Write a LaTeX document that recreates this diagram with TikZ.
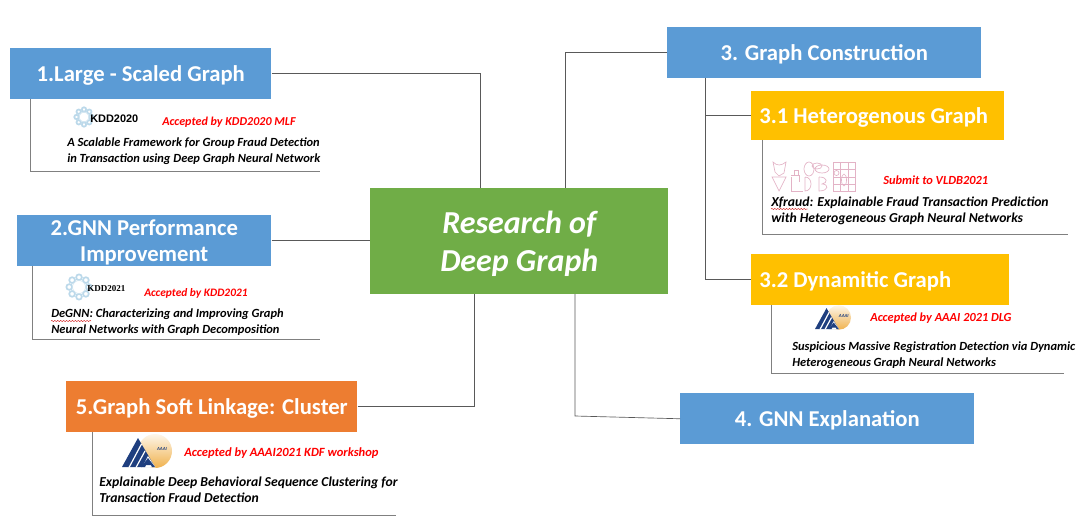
\documentclass[tikz,border=0pt]{standalone}
\usepackage{fontspec}
\setmainfont{Carlito}
\newfontfamily\kddsans{Liberation Sans}
\newfontfamily\kddserif{Liberation Serif}
\usetikzlibrary{decorations.pathmorphing}
\definecolor{boxblue}{HTML}{5B9BD5}
\definecolor{boxgold}{HTML}{FFC000}
\definecolor{boxorange}{HTML}{ED7D31}
\definecolor{boxgreen}{HTML}{70AD47}
\definecolor{logoblue}{HTML}{1F3F7F}
\definecolor{logosun}{HTML}{F0B24E}
\definecolor{logoflake}{HTML}{BCD9EA}
\definecolor{logopink}{HTML}{E3B3C6}
\tikzset{
  topicbox/.style={anchor=north west,inner sep=0pt,text=white,text depth=0pt,font=\bfseries\fontsize{17}{20}\selectfont,align=center},
  subtopic/.style={topicbox,fill=boxgold,inner xsep=6pt},
  linkline/.style={draw=black!65,line width=0.5pt},
  paperline/.style={draw=black!50,line width=0.6pt},
  papertext/.style={anchor=west,inner sep=0pt,align=left,font=\bfseries\itshape\fontsize{#1}{12}\selectfont},
  venuetext/.style={anchor=west,inner sep=0pt,text=red,font=\bfseries\itshape\fontsize{#1}{10}\selectfont},
  squiggle/.style={draw=red!80!black,line width=0.3pt,decorate,decoration={snake,amplitude=0.4pt,segment length=2.2pt}},
  kddlogo/.pic={
    \foreach \a in {0,45,...,315}
      \draw[logoflake,line width=1.3pt] (\a:7.5) circle (2.2);
    \draw[logoflake!70,line width=0.5pt] (0,0) circle (5);
  },
  aaailogo/.pic={
    \shade[top color=logosun!12,bottom color=logosun] (33,16) circle (17);
    \fill[logoblue] (0,0) -- (16,29) -- (33,0) -- cycle;
    \draw[white,line width=0.9pt] (7,-0.5) -- (19.5,23) (14,-0.5) -- (23,16);
    \fill[white] (20,-0.5) -- (26,11) -- (33.5,-0.5) -- cycle;
    \fill[logoblue] (19,0) -- (26,9) -- (33,0) -- (30,0) -- (29,2) -- (24,2) -- (23,0) -- cycle;
    \node[inner sep=0pt,text=logoblue,font=\bfseries\itshape\fontsize{3.5}{4}\selectfont] at (40,18) {AAAI};
  },
  vldblogo/.pic={
    \draw[logopink,line width=0.5pt] (0,14) -- (14,14) -- (7,0) -- cycle;
    \draw[logopink,line width=0.5pt] (1,29) .. controls (5,25) and (9,25) .. (14,29) -- (12,18) -- (7,15) -- (3,19) -- cycle;
    \draw[logopink,line width=0.5pt] (19,14) -- (19,0) -- (31,0);
    \draw[logopink,line width=0.5pt] (19,16) -- (27,16) -- (27,9) (22,16) -- (22,21) -- (26,21) -- (26,16);
    \draw[logopink,line width=0.5pt] (33,14) -- (33,0) .. controls (41,0) and (41,14) .. (33,14);
    \draw[logopink,line width=0.5pt] (37,22) ellipse (5 and 7);
    \draw[logopink,line width=0.5pt] (47,14) -- (47,0) .. controls (57,0) and (57,7) .. (50,7) .. controls (56,8) and (56,14) .. (47,14);
    \draw[logopink,line width=0.5pt] (50,22) ellipse (7 and 4) (45,25) ellipse (5 and 3);
    \draw[logopink,line width=0.5pt] (61,0) rectangle (83,29);
    \draw[logopink,line width=0.5pt] (68,0) -- (68,29) (76,0) -- (76,29) (61,7) -- (83,7) (61,14) -- (83,14) (61,22) -- (83,22);
    \draw[logopink,line width=0.5pt] (64.5,18) circle (2.5) (72,11) ellipse (2.5 and 6);
  }
}
\begin{document}
\begin{tikzpicture}[x=0.75pt,y=0.75pt,yscale=-1,xscale=1]
\useasboundingbox (0,0) rectangle (1080,524);

% boxes
\node[topicbox,fill=boxgreen,minimum width=223.5pt,minimum height=79.5pt,font=\bfseries\itshape\fontsize{24}{28}\selectfont] (research) at (370,188) {Research of\\Deep Graph};
\node[topicbox,fill=boxblue,minimum width=195.75pt,minimum height=38.25pt] (large) at (10,48) {1.Large - Scaled Graph};
\node[topicbox,fill=boxblue,minimum width=190.5pt,minimum height=38.25pt] (perf) at (17,215) {2.GNN Performance\\Improvement};
\node[topicbox,fill=boxblue,minimum width=235.5pt,minimum height=38.25pt] (construct) at (667,27) {3. Graph Construction};
\node[subtopic,minimum height=36.75pt] (hetero) at (751,91) {\makebox[177.75pt][l]{3.1 Heterogenous Graph}};
\node[subtopic,minimum height=38.25pt] (dynamic) at (751,254) {\makebox[181.5pt][l]{3.2 Dynamitic Graph}};
\node[topicbox,fill=boxblue,minimum width=220.5pt,minimum height=38.25pt] (explain) at (680,393) {4. GNN Explanation};
\node[topicbox,fill=boxorange,minimum width=218.25pt,minimum height=38.25pt] (cluster) at (66,381) {5.Graph Soft Linkage: Cluster};

% free ends
\coordinate (largeend) at (480,188);
\coordinate (clusterend) at (474,294);
\coordinate (constructend) at (565,188);
\coordinate (explainbend) at (575,416);
\coordinate (explainend) at (575,294);
\coordinate (trunktop) at (705,78);
\coordinate (largetop) at (30,99);
\coordinate (largefoot) at (320,171);
\coordinate (perftop) at (32,266);
\coordinate (perffoot) at (320,339);
\coordinate (clustertop) at (92,432);
\coordinate (clusterfoot) at (396,515);
\coordinate (heterotop) at (762,140);
\coordinate (heterofoot) at (1068,234);
\coordinate (dynamictop) at (771,305);
\coordinate (dynamicfoot) at (1064,373);

% connectors
\draw[linkline] (large.east) -| (largeend);
\draw[linkline] (perf.east) -- (research.west |- perf.east);
\draw[linkline] (cluster.east) -| (clusterend);
\draw[linkline] (construct.west) -| (constructend);
\draw[linkline] (explain.west) -- (explainbend) -- (explainend);
\draw[linkline] (trunktop) |- (hetero.west);
\draw[linkline] (trunktop) |- (dynamic.west);
\draw[paperline] (largetop) |- (largefoot);
\draw[paperline] (perftop) |- (perffoot);
\draw[paperline] (clustertop) |- (clusterfoot);
\draw[paperline] (heterotop) |- (heterofoot);
\draw[paperline] (dynamictop) |- (dynamicfoot);

% logos
\pic at (84,117) {kddlogo};
\node[anchor=west,inner sep=0pt,font=\kddsans\bfseries\fontsize{8.2}{10}\selectfont] (kddone) at (90,118.5) {KDD2020};
\pic[scale=1.3] at (79,287) {kddlogo};
\node[anchor=west,inner sep=0pt,font=\kddserif\bfseries\fontsize{6.75}{9}\selectfont] (kddtwo) at (87,288.5) {KDD2021};
\pic at (122,467) {aaailogo};
\pic[scale=0.72] at (815,329) {aaailogo};
\pic at (772,191) {vldblogo};

% venue lines
\node[venuetext=9.05] (venueone) at (162,122) {Accepted by KDD2020 MLF};
\node[venuetext=8.55] (venuetwo) at (144,293.5) {Accepted by KDD2021};
\node[venuetext=9.4] (venuefive) at (184,453.5) {Accepted by AAAI2021 KDF workshop};
\node[venuetext=9.3] (venuehet) at (883,180.5) {Submit to VLDB2021};
\node[venuetext=9.25] (venuedyn) at (870,318) {Accepted by AAAI 2021 DLG};

% paper titles
\node[papertext=9.35] (paperone) at (67,151) {A Scalable Framework for Group Fraud Detection\\in Transaction using Deep Graph Neural Network};
\node[papertext=9.35] (papertwo) at (51,322) {DeGNN: Characterizing and Improving Graph\\Neural Networks with Graph Decomposition};
\node[papertext=10.25] (paperfive) at (99,489.5) {Explainable Deep Behavioral Sequence Clustering for\\Transaction Fraud Detection};
\node[papertext=10.25] (paperhet) at (771,210.5) {Xfraud: Explainable Fraud Transaction Prediction\\with Heterogeneous Graph Neural Networks};
\node[papertext=9.35] (paperdyn) at (792,355) {Suspicious Massive Registration Detection via Dynamic\\Heterogeneous Graph Neural Networks};

% spell check marks
\draw[squiggle] (51,321) -- (91,321);
\draw[squiggle] (771,209) -- (808,209);
\end{tikzpicture}
\end{document}
